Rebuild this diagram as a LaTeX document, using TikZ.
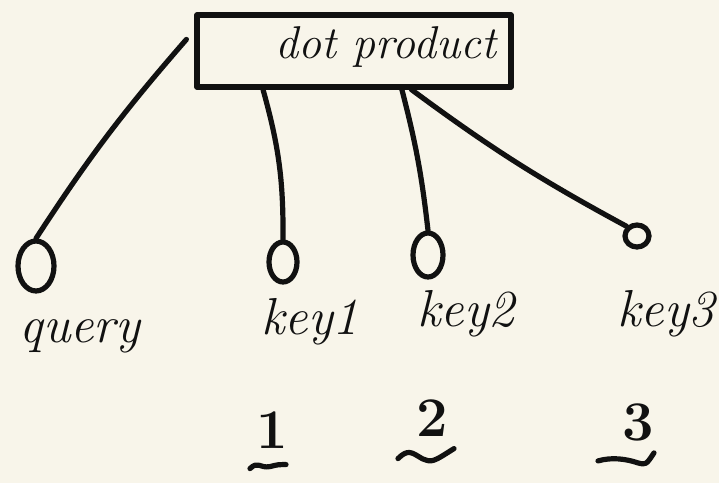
\documentclass[tikz,border=0pt]{standalone}
\usetikzlibrary{shapes.geometric,calc}
\definecolor{paper}{HTML}{F8F5EA}
\definecolor{ink}{HTML}{111111}
\begin{document}
\begin{tikzpicture}[x=1pt,y=-1pt,
  ink/.style={draw=ink,line width=5.2pt,line cap=round,line join=round},
  blob/.style={ellipse,ink,inner sep=0pt},
  hand/.style={text=ink,font=\fontsize{46}{50}\selectfont\itshape,inner sep=0pt},
  lbl/.style={text=ink,font=\fontsize{52}{56}\selectfont\itshape,inner sep=0pt,anchor=base},
  numtxt/.style={text=ink,font=\fontsize{56}{60}\selectfont\bfseries,inner sep=0pt}]
\fill[paper] (0,0) rectangle (719,483);
\useasboundingbox (0,0) rectangle (719,483);
% box
\node[ink,minimum width=314pt,minimum height=72pt,inner sep=0pt] (dp) at (354,51) {};
\node[hand] (dpt) at (386,47) {dot product};
% circles
\node[blob,minimum width=36pt,minimum height=50pt] (q) at (36,266) {};
\node[blob,minimum width=28pt,minimum height=40pt] (k1) at (283,262) {};
\node[blob,minimum width=30pt,minimum height=44pt] (k2) at (428,255) {};
\node[blob,minimum width=24pt,minimum height=22pt] (k3) at (637,236) {};
% start points on the box
\coordinate (s0) at ($(dp.north west)!0.35!(dp.south west)+(-8,0)$);
\coordinate (s1) at ($(dp.south west)!0.215!(dp.south east)$);
\coordinate (s2) at ($(dp.south west)!0.65!(dp.south east)$);
\coordinate (s3) at ($(dp.south west)!0.68!(dp.south east)$);
% connectors
\draw[ink] (s0) to[bend right=4] (q.north);
\draw[ink] (s1) to[bend left=8] (k1.north);
\draw[ink] (s2) to[bend left=4] (k2.north);
\draw[ink] (s3) to[bend right=4] (k3.north west);
% labels
\node[lbl] (lq) at (80,342) {query};
\node[lbl] (l1) at (310,334) {key1};
\node[lbl] (l2) at (466,326) {key2};
\node[lbl] (l3) at (666,326) {key3};
% numbers
\node[numtxt] (n1) at (272,430) {1};
\node[numtxt] (n2) at (432,418) {2};
\node[numtxt] (n3) at (638,422) {3};
\draw[ink] ($(n1.south)+(-22,20)$) .. controls +(8,-8) and +(-10,2) .. ($(n1.south)+(-2,18)$) .. controls +(8,-2) .. ($(n1.south)+(14,16)$);
\draw[ink] ($(n2.south)+(-34,22)$) .. controls +(10,-10) and +(-10,-6) .. ($(n2.south)+(-10,22)$) .. controls +(10,4) .. ($(n2.south)+(22,12)$);
\draw[ink] ($(n3.south)+(-40,20)$) .. controls +(14,-4) and +(-12,-4) .. ($(n3.south)+(0,22)$) .. controls +(8,2) .. ($(n3.south)+(16,12)$);
\end{tikzpicture}
\end{document}
